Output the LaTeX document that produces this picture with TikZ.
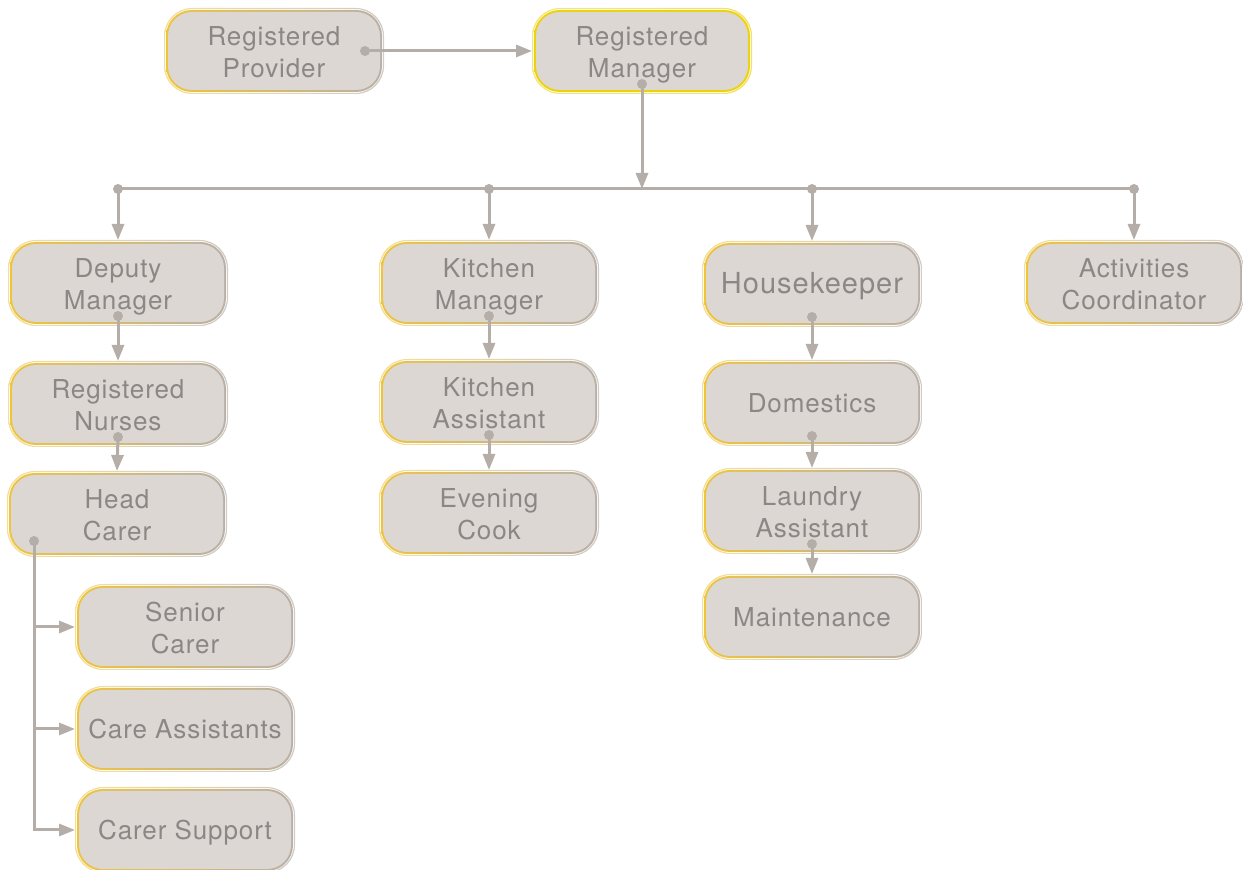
\documentclass[tikz,border=0pt]{standalone}
\usepackage{fontspec}
\setmainfont[LetterSpace=3.5]{TeX Gyre Heros}
\usetikzlibrary{arrows.meta,backgrounds}

\definecolor{boxfill}{HTML}{DCD7D3}
\definecolor{boxtext}{HTML}{8A8785}
\definecolor{linkgray}{HTML}{B5ADA7}
\definecolor{rimyellow}{HTML}{EEC43C}
\definecolor{rimgray}{HTML}{B8B0A9}
\definecolor{mgryellow}{HTML}{ECD20A}

\tikzset{
  role/.style={rounded corners=12pt, minimum width=106pt, minimum height=39pt,
    inner sep=2pt, outer sep=2pt, fill=boxfill, align=center, text=boxtext,
    font=\fontsize{13}{16}\selectfont,
    execute at begin node={\rule{0pt}{13pt}},
    execute at end node={\rule[-3pt]{0pt}{3pt}}},
  tworow/.style={role, execute at begin node={\rule{0pt}{29.5pt}}},
  arrowlink/.style={draw=linkgray, line width=1.5pt, -{Triangle[width=6pt,length=8pt]}},
  busline/.style={draw=linkgray, line width=1.5pt},
}

\begin{document}
\begin{tikzpicture}[x=0.5pt,y=-0.5pt]
\useasboundingbox (0,0) rectangle (1243,870);

% top
\node[tworow] (rp) at (274,51) {Registered\\Provider};
\node[tworow] (rm) at (642,51) {Registered\\Manager};

% second row
\node[tworow] (dm) at (118,283) {Deputy\\Manager};
\node[tworow] (km) at (489,283) {Kitchen\\Manager};
\node[role, font=\fontsize{14.5}{16}\selectfont] (hk) at (812,284) {Housekeeper};
\node[tworow] (ac) at (1134,283) {Activities\\Coordinator};

% care staff
\node[tworow] (rn) at (118,404) {Registered\\Nurses};
\node[tworow] (hc) at (117,514) {Head\\Carer};
\node[tworow] (sc) at (185,627) {Senior\\Carer};
\node[role] (ca) at (185,729) {Care Assistants};
\node[role] (cs) at (185,830) {Carer Support};

% kitchen
\node[tworow] (ka) at (489,402) {Kitchen\\Assistant};
\node[tworow] (ec) at (489,513) {Evening\\Cook};

% housekeeping
\node[role] (do) at (812,403) {Domestics};
\node[tworow] (la) at (812,511) {Laundry\\Assistant};
\node[role] (mt) at (812,617) {Maintenance};

% rims
\begin{scope}[on background layer]
\foreach \n/\lc/\rc in {rp/rimyellow/rimgray, rm/mgryellow/mgryellow, dm/rimyellow/rimgray,
    km/rimyellow/rimgray, hk/rimyellow/rimgray, ac/rimyellow/rimgray, rn/rimyellow/rimgray,
    hc/rimyellow/rimgray, sc/rimyellow/rimgray, ca/rimyellow/rimgray, cs/rimyellow/rimgray,
    ka/rimyellow/rimgray, ec/rimyellow/rimgray, do/rimyellow/rimgray, la/rimyellow/rimgray,
    mt/rimyellow/rimgray} {
  \shade[left color=\lc!55, right color=\rc!65, even odd rule, rounded corners=14pt]
    (\n.south west) rectangle (\n.north east)
    ([shift={(0.5pt,0.5pt)}]\n.south west) rectangle ([shift={(-0.5pt,-0.5pt)}]\n.north east);
  \shade[left color=\lc, right color=\rc, rounded corners=13pt]
    ([shift={(1pt,1pt)}]\n.south west) rectangle ([shift={(-1pt,-1pt)}]\n.north east);
}
\end{scope}

% links
\coordinate (busy) at (642,189);
\coordinate (rpdot) at ([xshift=-9.5pt]rp.east);
\coordinate (rmdot) at ([yshift=5pt]rm.south);
\draw[arrowlink] (rpdot) -- (rm.west);
\fill[linkgray] (rpdot) circle (2.5pt);
\draw[arrowlink] (rmdot) -- (busy);
\fill[linkgray] (rmdot) circle (2.5pt);
\draw[busline] (dm.north |- busy) -- (ac.north |- busy);
\foreach \n in {dm,km,hk,ac} {
  \draw[arrowlink] (\n.north |- busy) -- (\n.north);
  \fill[linkgray] (\n.north |- busy) circle (2.5pt);
}
\foreach \a/\b in {dm/rn, rn/hc, km/ka, ka/ec, hk/do, do/la, la/mt} {
  \draw[arrowlink] ([yshift=5pt]\a.south) -- (\b.north);
  \fill[linkgray] ([yshift=5pt]\a.south) circle (2.5pt);
}
\coordinate (hcdot) at ([shift={(13.5pt,8pt)}]hc.south west);
\foreach \n in {sc,ca,cs}
  \draw[arrowlink] (hcdot) |- (\n.west);
\fill[linkgray] (hcdot) circle (2.5pt);

\end{tikzpicture}
\end{document}
